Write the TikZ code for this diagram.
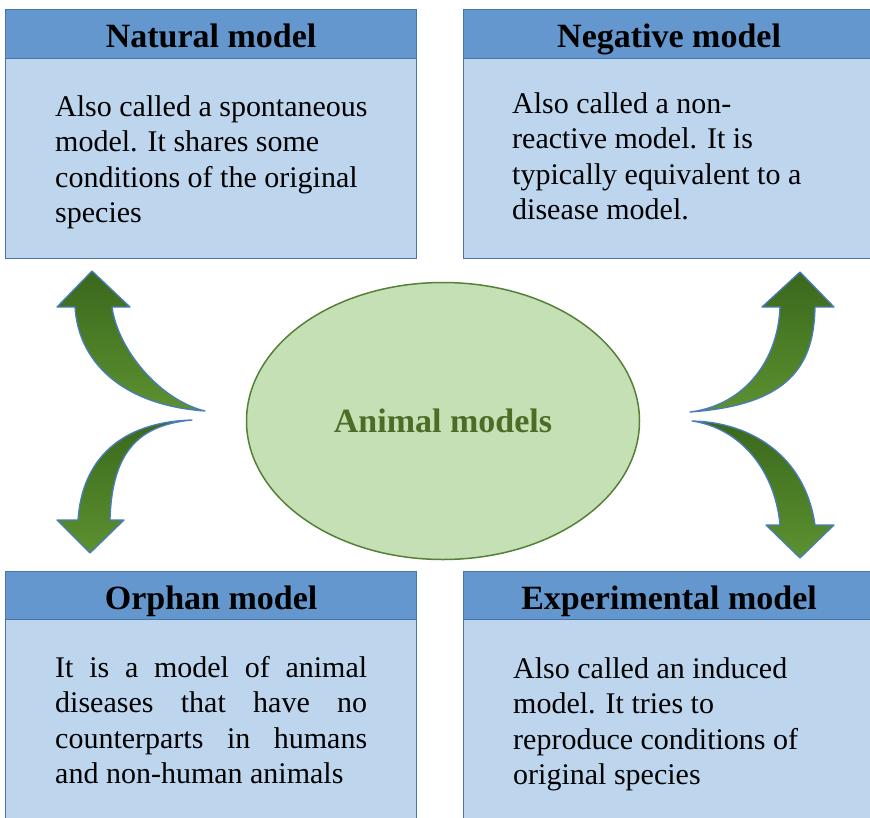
\documentclass[tikz,border=0pt]{standalone}
\usepackage{fontspec}
\setmainfont{Liberation Serif}
\usetikzlibrary{shapes.geometric}
\definecolor{hdrblue}{RGB}{99,151,205}
\definecolor{bodyblue}{RGB}{189,214,238}
\definecolor{edgeblue}{RGB}{72,116,172}
\definecolor{ellfill}{RGB}{197,224,180}
\definecolor{elledge}{RGB}{84,128,56}
\definecolor{elltext}{RGB}{76,109,38}
\definecolor{arrdark}{RGB}{58,104,28}
\definecolor{arrlight}{RGB}{92,145,48}
\definecolor{arredge}{RGB}{74,124,186}
\begin{document}
\begin{tikzpicture}[x=1pt,y=-1pt,
 hdr/.style={draw=edgeblue, line width=1.2pt, fill=hdrblue, anchor=north west, minimum width=411pt, minimum height=49pt, inner sep=0pt, text height=27pt, text depth=0pt, font=\fontsize{34}{40}\selectfont\bfseries},
 bodybox/.style={draw=edgeblue, line width=1.2pt, fill=bodyblue, anchor=north west, minimum width=411pt, inner sep=0pt},
 bodytext/.style={anchor=base west, inner sep=0pt, font=\fontsize{30}{35.5}\selectfont},
 bigarrow/.style={draw=arredge, line width=1.3pt, line join=round, top color=arrdark, bottom color=arrlight},
]
\useasboundingbox (0,0) rectangle (870,817);
\clip (0,0) rectangle (870,817);

% top-left
\node[bodybox, minimum height=200pt] (natb) at (5,58) {};
\node[hdr, minimum height=49pt] (nath) at (5,9) {Natural model};
\node[bodytext] (natt) at (55,116) {\parbox[t]{340pt}{\raggedright Also called a spontaneous\\ model. It shares some\\ conditions of the original\\ species}};

% top-right
\node[bodybox, minimum height=200pt] (negb) at (463,58) {};
\node[hdr, minimum height=49pt] (negh) at (463,9) {Negative model};
\node[bodytext] (negt) at (512,113) {\parbox[t]{340pt}{\raggedright Also called a non-\\ reactive model. It is\\ typically equivalent to a\\ disease model.}};

% bottom-left
\node[bodybox, minimum height=230pt] (orpb) at (5,619) {};
\node[hdr, minimum height=48pt] (orph) at (5,571) {Orphan model};
\node[bodytext] (orpt) at (55,677) {\parbox[t]{312pt}{%
 \hbox to\linewidth{It is a model of animal}%
 \hbox to\linewidth{diseases that have no}%
 \hbox to\linewidth{counterparts in humans}%
 \hbox{and non-human animals}}};

% bottom-right
\node[bodybox, minimum height=230pt] (expb) at (463,619) {};
\node[hdr, minimum height=48pt] (exph) at (463,571) {Experimental model};
\node[bodytext] (expt) at (513,678) {\parbox[t]{340pt}{\raggedright Also called an induced\\ model. It tries to\\ reproduce conditions of\\ original species}};

% centre
\node[ellipse, draw=elledge, line width=1.5pt, fill=ellfill, minimum width=393pt, minimum height=277pt, inner sep=0pt, text=elltext, font=\fontsize{34}{40}\selectfont\bfseries] (core) at (443,421) {Animal models};

% arrows
\draw[bigarrow] (92,271) -- (130,307) -- (112,307) .. controls (118,350) and (160,400) .. (205,411) .. controls (120,405) and (78,360) .. (75,307) -- (57,307) -- cycle;
\draw[bigarrow] (90,553) -- (124,520) -- (110,520) .. controls (112,450) and (140,425) .. (192,420) .. controls (120,422) and (82,460) .. (78,520) -- (57,520) -- cycle;
\draw[bigarrow] (800,272) -- (834,307) -- (815,307) .. controls (814,365) and (790,405) .. (690,412) .. controls (745,405) and (778,360) .. (780,307) -- (762,307) -- cycle;
\draw[bigarrow] (800,558) -- (834,525) -- (815,525) .. controls (805,455) and (750,422) .. (692,421) .. controls (740,428) and (775,470) .. (780,525) -- (766,525) -- cycle;
\end{tikzpicture}
\end{document}
